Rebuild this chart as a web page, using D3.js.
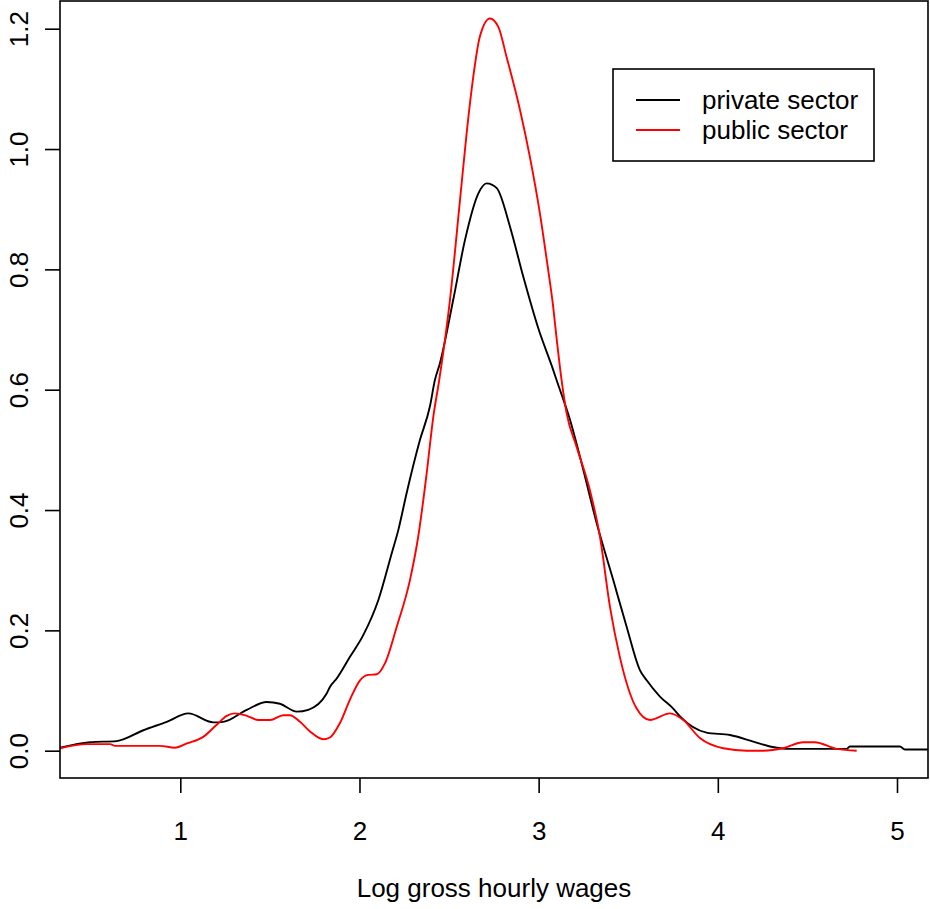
<!DOCTYPE html>
<html><head><meta charset="utf-8">
<script src="https://cdn.jsdelivr.net/npm/d3@7"></script>
<style>body{margin:0;background:#fff}text{font-family:Arial,"Liberation Sans",sans-serif}</style>
</head><body><svg id="c" width="930" height="909"></svg>
<script>
const privateX = [0.329,0.496,0.645,0.794,0.924,1.045,1.184,1.240,1.371,1.482,1.556,1.650,1.714,1.817,1.835,1.873,1.947,2.021,2.105,2.180,2.217,2.263,2.337,2.393,2.421,2.449,2.523,2.589,2.663,2.710,2.766,2.840,2.914,2.998,3.081,3.100,3.175,3.249,3.324,3.416,3.491,3.565,3.603,3.677,3.751,3.789,3.937,4.068,4.198,4.291,4.402,4.719,4.737,5.016,5.044,5.176];
const privateY = [0.005,0.014,0.016,0.034,0.048,0.062,0.047,0.048,0.068,0.081,0.078,0.065,0.068,0.095,0.106,0.120,0.156,0.192,0.250,0.328,0.367,0.428,0.516,0.572,0.616,0.644,0.749,0.849,0.926,0.943,0.935,0.871,0.788,0.702,0.633,0.616,0.550,0.467,0.378,0.284,0.206,0.134,0.117,0.090,0.070,0.057,0.030,0.026,0.015,0.007,0.003,0.003,0.007,0.007,0.002,0.002];
const publicX = [0.329,0.478,0.608,0.636,0.887,0.970,1.036,1.128,1.203,1.259,1.305,1.371,1.435,1.501,1.575,1.612,1.668,1.724,1.798,1.835,1.891,1.947,2.003,2.049,2.096,2.142,2.208,2.282,2.328,2.375,2.412,2.445,2.505,2.561,2.598,2.635,2.672,2.728,2.775,2.821,2.896,2.951,3.007,3.045,3.081,3.097,3.128,3.156,3.212,3.286,3.342,3.398,3.453,3.547,3.621,3.733,3.807,3.900,4.030,4.161,4.253,4.365,4.477,4.541,4.663,4.775];
const publicY = [0.004,0.011,0.011,0.008,0.008,0.005,0.012,0.023,0.043,0.058,0.062,0.058,0.051,0.051,0.059,0.059,0.048,0.032,0.019,0.022,0.046,0.085,0.117,0.126,0.127,0.145,0.206,0.284,0.356,0.461,0.555,0.616,0.749,0.915,1.026,1.120,1.187,1.217,1.203,1.153,1.065,0.987,0.893,0.816,0.738,0.694,0.616,0.561,0.505,0.433,0.356,0.239,0.156,0.070,0.051,0.062,0.051,0.021,0.004,0.000,0.000,0.004,0.014,0.014,0.003,0.000];
const xTicks = [1,2,3,4,5];
const yTicks = [0,0.2,0.4,0.6,0.8,1.0,1.2];
const seriesNames = ["private sector","public sector"];
const seriesColors = ["#000000","#ff0000"];
const xTitle = "Log gross hourly wages";

const svg = d3.select("#c");
const L=60, R=928, T=1, B=778, FS=26;
const x = d3.scaleLinear().domain([1,5]).range([180.3,897]);
const y = d3.scaleLinear().domain([0,1.2]).range([750.7,28.7]);

svg.append("clipPath").attr("id","clip").append("rect")
  .attr("x",L).attr("y",T).attr("width",R-L).attr("height",B-T);

const line = d3.line().x(d=>x(d[0])).y(d=>y(d[1])).curve(d3.curveMonotoneX);
const series = [d3.zip(privateX,privateY), d3.zip(publicX,publicY)];
svg.append("g").attr("clip-path","url(#clip)").selectAll("path").data(series).join("path")
  .attr("d",line).attr("fill","none").attr("stroke",(d,i)=>seriesColors[i])
  .attr("stroke-width",1.9).attr("stroke-linejoin","round");

// box
svg.append("rect").attr("x",L).attr("y",T).attr("width",R-L).attr("height",B-T)
  .attr("fill","none").attr("stroke","#000").attr("stroke-width",1.6);

// x axis
const xa = svg.append("g").attr("transform",`translate(0,${B})`)
  .call(d3.axisBottom(x).tickValues(xTicks).tickSize(15).tickFormat(d3.format("d")));
xa.select(".domain").remove();
xa.selectAll("line").attr("stroke-width",1.6);
xa.selectAll("text").attr("font-size",FS).attr("fill","#000").attr("y",null).attr("dy",null)
  .attr("transform","translate(0,62)");

// y axis
const ya = svg.append("g").attr("transform",`translate(${L},0)`)
  .call(d3.axisLeft(y).tickValues(yTicks).tickSize(15).tickFormat(d3.format(".1f")));
ya.select(".domain").remove();
ya.selectAll("line").attr("stroke-width",1.6);
ya.selectAll("text").attr("font-size",FS).attr("fill","#000").attr("x",null).attr("dy",null)
  .attr("text-anchor","middle").attr("transform","translate(-32,0) rotate(-90)");

svg.append("text").attr("x",(L+R)/2).attr("y",897).attr("text-anchor","middle")
  .attr("font-size",FS).text(xTitle);

// legend
const lg = svg.append("g");
lg.append("rect").attr("x",613).attr("y",69).attr("width",261).attr("height",92)
  .attr("fill","#fff").attr("stroke","#000").attr("stroke-width",1.6);
seriesNames.forEach((n,i)=>{
  const ly = 100 + i*30;
  lg.append("line").attr("x1",636).attr("x2",680).attr("y1",ly).attr("y2",ly)
    .attr("stroke",seriesColors[i]).attr("stroke-width",1.9);
  lg.append("text").attr("x",702).attr("y",ly+9).attr("font-size",FS).text(n);
});
</script></body></html>
